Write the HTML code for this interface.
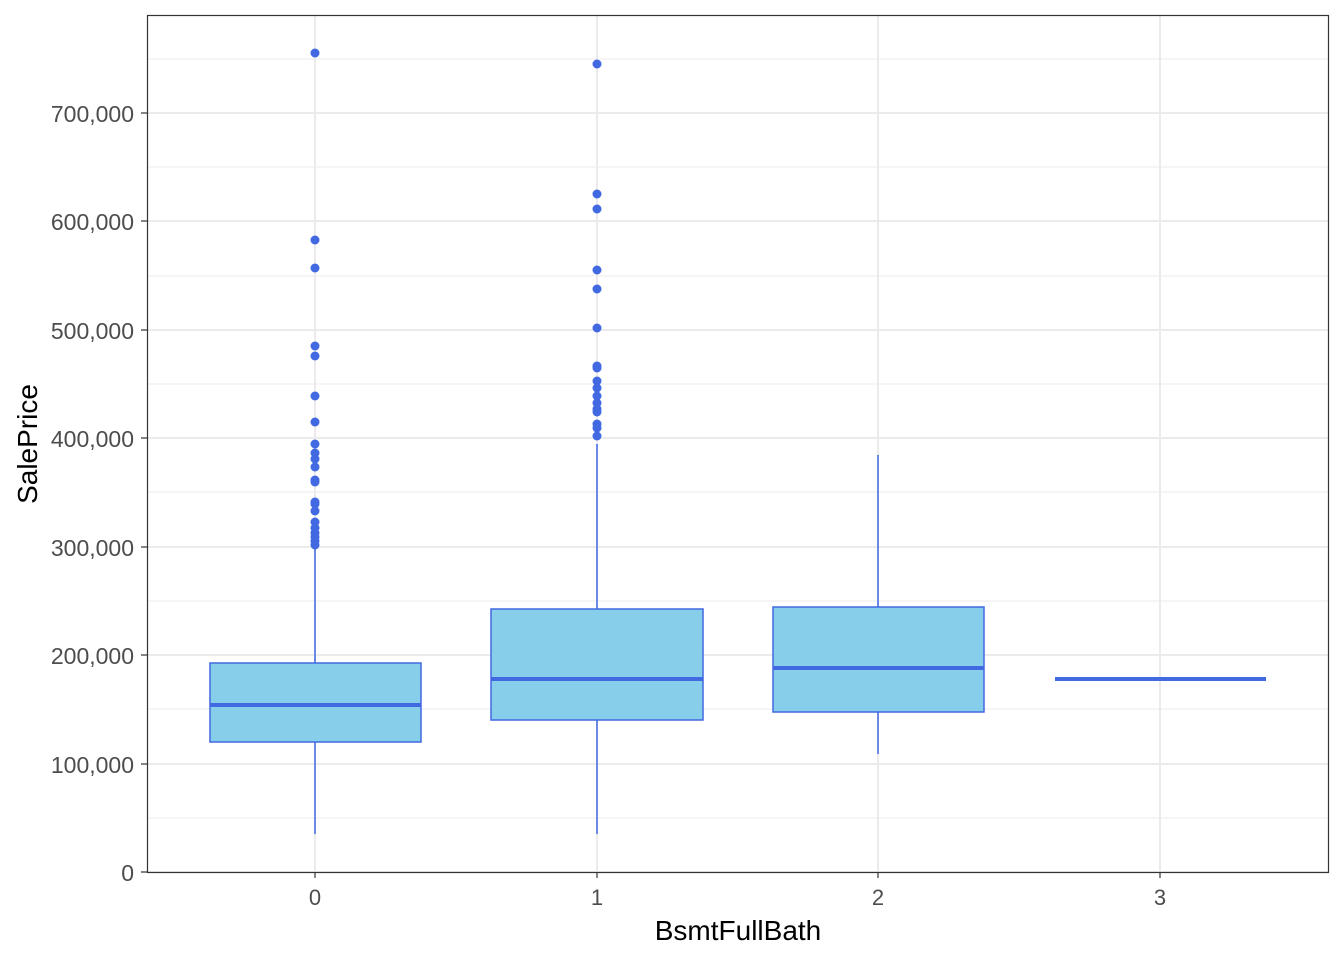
<!DOCTYPE html>
<html><head><style>body{margin:0;background:#fff}svg{display:block}text{font-family:"Liberation Sans",sans-serif}</style></head><body>
<svg width="1344" height="960" xmlns="http://www.w3.org/2000/svg">
<rect width="1344" height="960" fill="#fff"/>
<g stroke="#ebebeb" stroke-width="1">
<line x1="147" x2="1329" y1="818" y2="818"/><line x1="147" x2="1329" y1="709" y2="709"/><line x1="147" x2="1329" y1="601" y2="601"/><line x1="147" x2="1329" y1="492" y2="492"/><line x1="147" x2="1329" y1="384" y2="384"/><line x1="147" x2="1329" y1="276" y2="276"/><line x1="147" x2="1329" y1="167" y2="167"/><line x1="147" x2="1329" y1="59" y2="59"/>
</g>
<g stroke="#ebebeb" stroke-width="2">
<line x1="147" x2="1329" y1="872" y2="872"/><line x1="147" x2="1329" y1="764" y2="764"/><line x1="147" x2="1329" y1="655" y2="655"/><line x1="147" x2="1329" y1="547" y2="547"/><line x1="147" x2="1329" y1="438" y2="438"/><line x1="147" x2="1329" y1="330" y2="330"/><line x1="147" x2="1329" y1="221" y2="221"/><line x1="147" x2="1329" y1="113" y2="113"/>
<line x1="315" x2="315" y1="15" y2="872"/><line x1="597" x2="597" y1="15" y2="872"/><line x1="878" x2="878" y1="15" y2="872"/><line x1="1160" x2="1160" y1="15" y2="872"/>
</g>
<g stroke="#4169e1" stroke-width="1.5" fill="#87ceeb">
<line x1="315" x2="315" y1="548" y2="834"/>
<rect x="210" y="663" width="211" height="79"/>
<line x1="597" x2="597" y1="444" y2="834"/>
<rect x="491" y="609" width="212" height="111"/>
<line x1="878" x2="878" y1="455" y2="754"/>
<rect x="773" y="607" width="211" height="105"/>
</g>
<g stroke="#4169e1" stroke-width="4">
<line x1="210" x2="421" y1="705" y2="705"/>
<line x1="491" x2="703" y1="679" y2="679"/>
<line x1="773" x2="984" y1="668" y2="668"/>
<line x1="1055" x2="1266" y1="679" y2="679"/>
</g>
<g fill="#4169e1">
<circle cx="315" cy="53" r="4.5"/><circle cx="315" cy="240" r="4.5"/><circle cx="315" cy="268" r="4.5"/><circle cx="315" cy="346" r="4.5"/><circle cx="315" cy="356" r="4.5"/><circle cx="315" cy="396" r="4.5"/><circle cx="315" cy="422" r="4.5"/><circle cx="315" cy="444" r="4.5"/><circle cx="315" cy="453" r="4.5"/><circle cx="315" cy="459" r="4.5"/><circle cx="315" cy="467" r="4.5"/><circle cx="315" cy="480" r="4.5"/><circle cx="315" cy="482" r="4.5"/><circle cx="315" cy="502" r="4.5"/><circle cx="315" cy="504" r="4.5"/><circle cx="315" cy="511" r="4.5"/><circle cx="315" cy="522" r="4.5"/><circle cx="315" cy="528" r="4.5"/><circle cx="315" cy="533" r="4.5"/><circle cx="315" cy="537" r="4.5"/><circle cx="315" cy="541" r="4.5"/><circle cx="315" cy="545" r="4.5"/>
<circle cx="597" cy="64" r="4.5"/><circle cx="597" cy="194" r="4.5"/><circle cx="597" cy="209" r="4.5"/><circle cx="597" cy="270" r="4.5"/><circle cx="597" cy="289" r="4.5"/><circle cx="597" cy="328" r="4.5"/><circle cx="597" cy="366" r="4.5"/><circle cx="597" cy="368" r="4.5"/><circle cx="597" cy="381" r="4.5"/><circle cx="597" cy="388" r="4.5"/><circle cx="597" cy="396" r="4.5"/><circle cx="597" cy="403" r="4.5"/><circle cx="597" cy="409" r="4.5"/><circle cx="597" cy="412" r="4.5"/><circle cx="597" cy="424" r="4.5"/><circle cx="597" cy="428" r="4.5"/><circle cx="597" cy="436" r="4.5"/>
</g>
<rect x="147.5" y="15.5" width="1181" height="857" fill="none" stroke="#333" stroke-width="1.2"/>
<g stroke="#333" stroke-width="1.2">
<line x1="141" x2="147" y1="872" y2="872"/><line x1="141" x2="147" y1="764" y2="764"/><line x1="141" x2="147" y1="655" y2="655"/><line x1="141" x2="147" y1="547" y2="547"/><line x1="141" x2="147" y1="438" y2="438"/><line x1="141" x2="147" y1="330" y2="330"/><line x1="141" x2="147" y1="221" y2="221"/><line x1="141" x2="147" y1="113" y2="113"/>
<line x1="315" x2="315" y1="872" y2="878"/><line x1="597" x2="597" y1="872" y2="878"/><line x1="878" x2="878" y1="872" y2="878"/><line x1="1160" x2="1160" y1="872" y2="878"/>
</g>
<g font-size="23" fill="#4d4d4d" text-anchor="end">
<text x="134" y="881">0</text><text x="134" y="773">100,000</text><text x="134" y="664">200,000</text><text x="134" y="556">300,000</text><text x="134" y="447">400,000</text><text x="134" y="339">500,000</text><text x="134" y="230">600,000</text><text x="134" y="122">700,000</text>
</g>
<g font-size="22" fill="#4d4d4d" text-anchor="middle">
<text x="315" y="905">0</text><text x="597" y="905">1</text><text x="878" y="905">2</text><text x="1160" y="905">3</text>
</g>
<text x="738" y="940" font-size="28" text-anchor="middle" fill="#000">BsmtFullBath</text>
<text transform="translate(37,444) rotate(-90)" font-size="28" text-anchor="middle" fill="#000">SalePrice</text>
</svg>
</body></html>
